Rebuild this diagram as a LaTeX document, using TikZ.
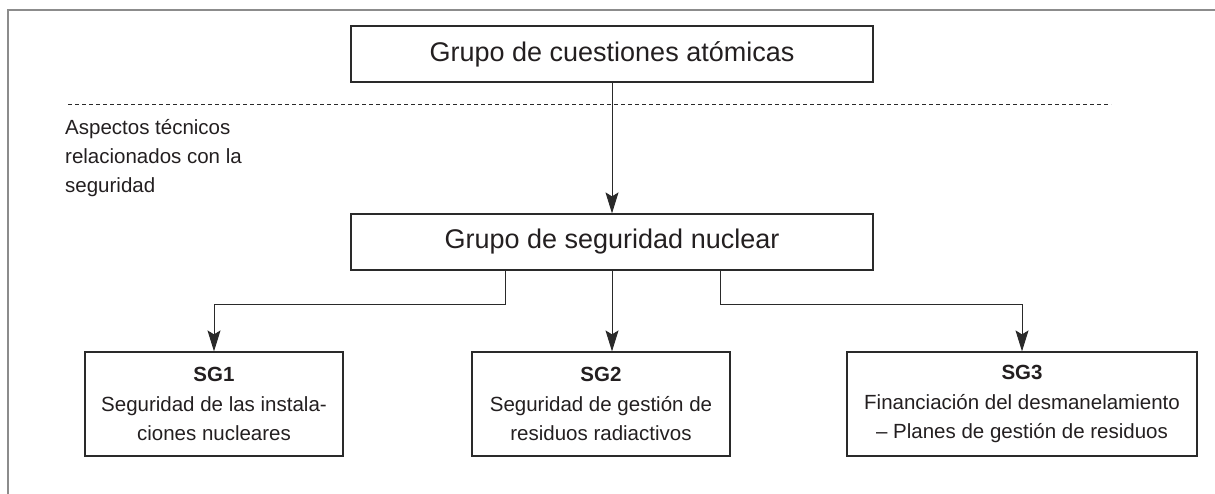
\documentclass[tikz,border=0pt]{standalone}
\usepackage{fontspec}
\setmainfont{Liberation Sans}
\usetikzlibrary{arrows.meta}
\definecolor{txt}{HTML}{231F20}
\definecolor{frame}{HTML}{8C8C8C}
\definecolor{boxline}{HTML}{2A2A2A}
\begin{document}
\begin{tikzpicture}[x=1pt,y=-1pt,
  bigbox/.style={draw=boxline,line width=1.2pt,minimum width=522pt,minimum height=56pt,inner sep=0pt,text=txt,font=\fontsize{27}{32}\selectfont},
  sgbox/.style={draw=boxline,line width=1.2pt,minimum height=104pt,inner sep=0pt,text=txt,align=center,font=\fontsize{20.5}{29.5}\selectfont},
  arr/.style={draw=boxline,line width=1pt,-{Stealth[length=21pt,width=13pt,inset=4pt]}},
  note/.style={text=txt,align=left,inner sep=0pt,font=\fontsize{20.5}{29}\selectfont}
]
\useasboundingbox (0,0) rectangle (1215,494);
\draw[frame,line width=1.2pt] (8,494) -- (8,10) -- (1215,10);

\node[bigbox] (top) at (612,54) {Grupo de cuestiones atómicas};
\node[bigbox] (mid) at (612,242) {Grupo de seguridad nuclear};

\coordinate (dl) at (68,104);
\coordinate (dr) at (1111,104);
\draw[boxline,line width=0.9pt,dash pattern=on 4pt off 3pt] (dl) -- (dr);

\node[note,anchor=north west] (asp) at (65,119) {Aspectos técnicos\\relacionados con la\\seguridad};

\node[sgbox,minimum width=258pt] (sg1) at (214,404) {\textbf{SG1}\\Seguridad de las instala-\\ciones nucleares};
\node[sgbox,minimum width=258pt] (sg2) at (601,404) {\textbf{SG2}\\Seguridad de gestión de\\residuos radiactivos};
\node[sgbox,minimum width=350pt] (sg3) at (1022,404) {\textbf{SG3}\\Financiación del desmanelamiento\\– Planes de gestión de residuos};

\draw[arr] (top.south) -- (mid.north);
\draw[arr] (mid.south) -- (mid.south |- sg2.north);
\draw[arr] ([xshift=-107pt]mid.south) -- ++(0,34) -| (sg1.north);
\draw[arr] ([xshift=108pt]mid.south) -- ++(0,34) -| (sg3.north);
\end{tikzpicture}
\end{document}
